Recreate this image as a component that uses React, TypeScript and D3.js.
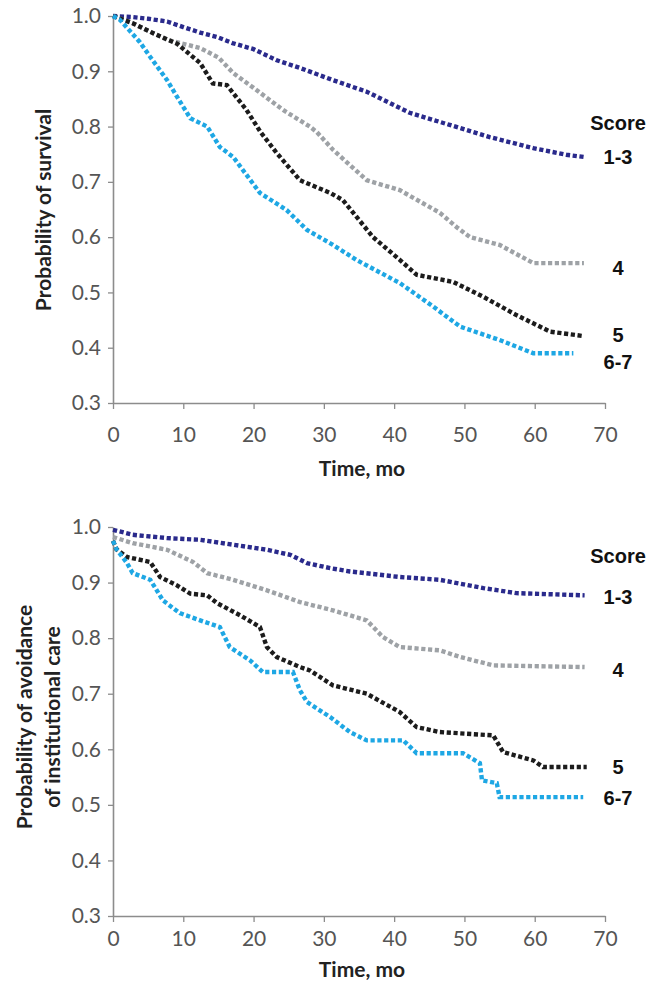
import React, { useEffect, useRef } from 'react';
import * as d3 from 'd3';

// score groups and their line colours
const scores = ['1-3', '4', '5', '6-7'];
const colors = ['#2a2a8c', '#9ea2a6', '#1c1c1c', '#1ea7e4'];

const xTicks = [0, 10, 20, 30, 40, 50, 60, 70];
const yTicks = [0.3, 0.4, 0.5, 0.6, 0.7, 0.8, 0.9, 1.0];

// survival, [month, probability]
const surv13 = [[0,1],[2.8,0.998],[5,0.995],[7.7,0.99],[10,0.98],[12.4,0.97],[14.8,0.962],[17,0.951],[20,0.94],[23.3,0.92],[26.6,0.906],[31.3,0.884],[36.1,0.863],[42.2,0.825],[47.9,0.803],[53.6,0.781],[59.8,0.761],[64.5,0.749],[67,0.745]];
const surv4 = [[0,1],[2.8,0.987],[7.7,0.957],[12.4,0.942],[15,0.925],[17.1,0.897],[20,0.87],[24.2,0.83],[28,0.8],[29,0.79],[31.3,0.758],[36.1,0.703],[40.8,0.685],[46.5,0.644],[48.9,0.618],[50.8,0.6],[55,0.586],[59.8,0.553],[67,0.553]];
const surv5 = [[0,1],[2.8,0.987],[5.7,0.969],[9.1,0.95],[12.4,0.915],[14.2,0.878],[16.2,0.875],[19,0.83],[21,0.79],[23.3,0.752],[26.6,0.703],[29,0.69],[30.9,0.68],[32.7,0.667],[37,0.6],[40.8,0.559],[43.2,0.532],[48.4,0.519],[52.7,0.492],[57.4,0.459],[62.2,0.429],[67,0.421]];
const surv67 = [[0,1],[1,0.993],[3.8,0.953],[5.3,0.926],[7.7,0.884],[9.1,0.854],[11,0.815],[13.4,0.8],[15.2,0.763],[17.1,0.745],[20.9,0.68],[24.7,0.649],[27.6,0.613],[31.3,0.586],[34.6,0.559],[40.8,0.517],[45.6,0.474],[49.4,0.438],[55,0.414],[59.8,0.39],[65.5,0.39]];

// avoidance of institutional care
const care13 = [[0,0.995],[2.8,0.986],[7.7,0.98],[12.4,0.977],[17.1,0.968],[21.9,0.959],[25.2,0.95],[27.6,0.935],[30.9,0.926],[33.7,0.92],[40.8,0.91],[46.5,0.905],[52.7,0.89],[57.4,0.881],[67.1,0.877]];
const care4 = [[0,0.982],[2.8,0.971],[7.7,0.959],[11.4,0.937],[13.4,0.917],[17.1,0.905],[21.9,0.886],[26.6,0.865],[31.3,0.85],[36.1,0.832],[38.4,0.802],[40.8,0.784],[46.5,0.778],[49.4,0.766],[54.1,0.751],[67.1,0.748]];
const care5 = [[0,0.975],[0.5,0.96],[2,0.946],[5.3,0.937],[6.7,0.91],[9.1,0.895],[11,0.88],[13.4,0.877],[14.8,0.863],[18.1,0.841],[20.9,0.82],[21.9,0.784],[23.3,0.766],[26.6,0.748],[28,0.742],[31.3,0.715],[36.1,0.7],[40.8,0.667],[43.2,0.64],[46.5,0.631],[54.1,0.625],[55.5,0.595],[59.8,0.58],[61.2,0.568],[67.4,0.568]];
const care67 = [[0,0.975],[0.5,0.96],[2,0.935],[2.8,0.917],[5.3,0.905],[7.1,0.868],[9.5,0.845],[12.4,0.832],[15.2,0.82],[16.6,0.784],[19.5,0.76],[21.3,0.739],[25.6,0.739],[26.6,0.706],[27.6,0.685],[30.9,0.658],[33.7,0.631],[36.1,0.616],[41.3,0.616],[43.2,0.593],[49.8,0.593],[52.2,0.575],[52.5,0.544],[54.6,0.539],[55,0.514],[66.9,0.514]];

const panels = [
  {
    series: [surv13, surv4, surv5, surv67],
    yTitle: ['Probability of survival'],
    top: 16, bottom: 403, xPad: 18, titleGap: 66,
    yTitleX: 44, yTitleMid: 210,
    labelDy: [0, 5, -1, 9], scoreY: 123,
  },
  {
    series: [care13, care4, care5, care67],
    yTitle: ['Probability of avoidance', 'of institutional care'],
    top: 527, bottom: 916, xPad: 9, titleGap: 54,
    yTitleX: 25, yTitleMid: 717,
    labelDy: [2, 3, 0, 1], scoreY: 556,
  },
];

const W = 662, H = 983;
const tickFont = 'Lato, "Open Sans", sans-serif';
const legendFont = '"Liberation Sans", Arial, sans-serif';

export default function App() {
  const ref = useRef<SVGSVGElement>(null);

  useEffect(() => {
    const svg = d3.select(ref.current);
    svg.selectAll('*').remove();

    const x = d3.scaleLinear().domain([0, 70]).range([113, 605]);

    panels.forEach(p => {
      const y = d3.scaleLinear().domain([0.3, 1]).range([p.bottom, p.top]);
      const g = svg.append('g');

      // axes
      const ax = g.append('g')
        .attr('transform', `translate(0,${p.bottom})`)
        .call(d3.axisBottom(x).tickValues(xTicks).tickSize(6).tickSizeOuter(0).tickPadding(p.xPad).tickFormat(d3.format('d')));
      const ay = g.append('g')
        .attr('transform', `translate(${x(0)},0)`)
        .call(d3.axisLeft(y).tickValues(yTicks).tickSize(5).tickSizeOuter(0).tickPadding(7).tickFormat(d3.format('.1f')));
      [ax, ay].forEach(a => {
        a.select('.domain').attr('stroke', '#8c8c8c').attr('stroke-width', 1.6);
        a.selectAll('.tick line').attr('stroke', '#8c8c8c').attr('stroke-width', 1.3);
        a.selectAll('.tick text')
          .attr('font-family', tickFont).attr('font-size', 21).attr('fill', '#555');
      });

      // curves
      const line = d3.line<number[]>().x(d => x(d[0])).y(d => y(d[1]));
      p.series.forEach((s, i) => {
        g.append('path')
          .attr('d', line(s))
          .attr('fill', 'none')
          .attr('stroke', colors[i])
          .attr('stroke-width', 4.4)
          .attr('stroke-dasharray', '4.2 2.6');
      });

      // end labels
      g.append('text')
        .attr('x', 618).attr('y', p.scoreY).attr('dy', '0.35em')
        .attr('text-anchor', 'middle')
        .attr('font-family', legendFont).attr('font-weight', 'bold').attr('font-size', 20)
        .attr('fill', '#111').text('Score');
      p.series.forEach((s, i) => {
        g.append('text')
          .attr('x', 618).attr('y', y(s[s.length - 1][1]) + p.labelDy[i]).attr('dy', '0.35em')
          .attr('text-anchor', 'middle')
          .attr('font-family', legendFont).attr('font-weight', 'bold').attr('font-size', 20)
          .attr('fill', '#111').text(scores[i]);
      });

      // titles
      g.append('text')
        .attr('x', 362).attr('y', p.bottom + p.titleGap).attr('dy', '0.35em')
        .attr('text-anchor', 'middle')
        .attr('font-family', tickFont).attr('font-weight', 'bold').attr('font-size', 21)
        .attr('fill', '#222').text('Time, mo');

      p.yTitle.forEach((t, k) => {
        g.append('text')
          .attr('transform', `translate(${p.yTitleX + k * 28},${p.yTitleMid}) rotate(-90)`)
          .attr('dy', '0.35em')
          .attr('text-anchor', 'middle')
          .attr('font-family', tickFont).attr('font-weight', 'bold').attr('font-size', 21)
          .attr('fill', '#222').text(t);
      });
    });
  }, []);

  return (
    <div style={{ position: 'absolute', left: 0, top: 0 }}>
      <svg ref={ref} width={W} height={H} style={{ display: 'block', background: '#fff' }} />
    </div>
  );
}
